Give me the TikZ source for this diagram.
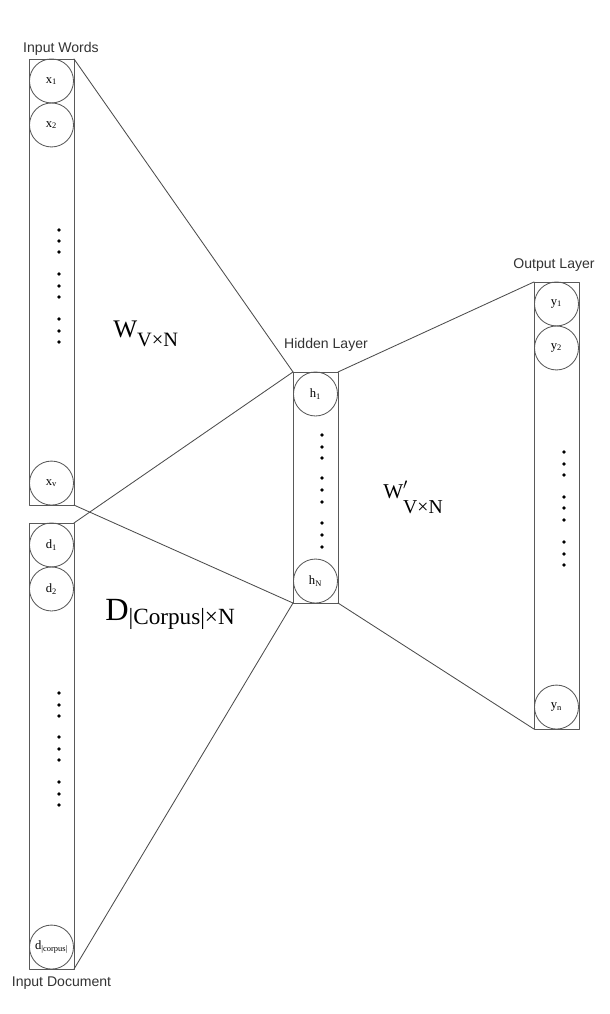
\documentclass[tikz,border=0pt]{standalone}
\usepackage{fontspec}
\setmainfont{Liberation Serif}
\newfontfamily\titlefont{Liberation Sans}
\usetikzlibrary{positioning}

\begin{document}
\begin{tikzpicture}[x=0.025cm,y=-0.025cm,line join=round,line cap=round,
    layerbox/.style={draw=black!65,line width=0.6pt,minimum width=1.125cm,inner sep=0pt,outer sep=0pt},
    unit/.style={circle,draw=black!65,line width=0.6pt,minimum size=1.1cm,inner sep=0pt,outer sep=0pt,
      font=\fontsize{9}{9}\selectfont},
    title/.style={font=\titlefont\fontsize{10}{12}\selectfont,text=black!80,inner sep=0pt},
    weight/.style={anchor=base west,inner sep=0pt},
    link/.style={draw=black!70,line width=0.6pt}]

  \useasboundingbox (0,0) rectangle (610,1014);

  % ---- input words ---------------------------------------------------------
  \node[layerbox,minimum height=11.15cm] (inw) at (51.5,282) {};
  \node[unit,below=0pt of inw.north] (x1) {x\textsubscript{1}};
  \node[unit,below=0pt of x1] (x2) {x\textsubscript{2}};
  \node[unit,above=0pt of inw.south] (xv) {x\textsubscript{v}};
  \foreach \y in {230,241,252,274,286,297,319,331,342}
    \fill (59,\y) circle (1.3pt);
  \node[title] (inwtitle) at (61,49) {Input Words};

  % ---- input document ------------------------------------------------------
  \node[layerbox,minimum height=11.15cm] (doc) at (51.5,746) {};
  \node[unit,below=0pt of doc.north] (d1) {d\textsubscript{1}};
  \node[unit,below=0pt of d1] (d2) {d\textsubscript{2}};
  \node[unit,above=0pt of doc.south] (dc) {d\textsubscript{|corpus|}};
  \foreach \y in {693,705,716,737,749,760,782,794,805}
    \fill (59,\y) circle (1.3pt);
  \node[title] (doctitle) at (61.5,983) {Input Document};

  % ---- hidden layer --------------------------------------------------------
  \node[layerbox,minimum height=5.775cm] (hid) at (315.5,487.5) {};
  \node[unit,below=0pt of hid.north] (h1) {h\textsubscript{1}};
  \node[unit,above=0pt of hid.south] (hN) {h\textsubscript{N}};
  \foreach \y in {435,447,458,478,490,502,523,535,547}
    \fill (322,\y) circle (1.3pt);
  \node[title] (hidtitle) at (326,345) {Hidden Layer};

  % ---- output layer --------------------------------------------------------
  \node[layerbox,minimum height=11.175cm] (out) at (556.5,505.5) {};
  \node[unit,below=0pt of out.north] (y1) {y\textsubscript{1}};
  \node[unit,below=0pt of y1] (y2) {y\textsubscript{2}};
  \node[unit,above=0pt of out.south] (yn) {y\textsubscript{n}};
  \foreach \y in {452,464,475,497,508,520,542,554,565}
    \fill (564,\y) circle (1.3pt);
  \node[title] (outtitle) at (554,265) {Output Layer};

  % ---- connections ---------------------------------------------------------
  \draw[link] (inw.north east) -- (hid.north west);
  \draw[link] (inw.south east) -- (hid.south west);
  \draw[link] (doc.north east) -- (hid.north west);
  \draw[link] (doc.south east) -- (hid.south west);
  \draw[link] (hid.north east) -- (out.north west);
  \draw[link] (hid.south east) -- (out.south west);

  % ---- weight matrices -----------------------------------------------------
  \node[weight] (wmat) at (113,337)
    {\fontsize{18}{18}\selectfont W\raisebox{-7pt}{\fontsize{14.5}{14.5}\selectfont V×N}};
  \node[weight] (dmat) at (105,620)
    {\fontsize{23}{23}\selectfont D\raisebox{-3.5pt}{\fontsize{16.5}{16.5}\selectfont |Corpus|×N}};
  \node[weight] (wout) at (383,498)
    {\fontsize{15}{15}\selectfont W\rlap{\raisebox{1pt}{$'$}}\raisebox{-11.3pt}{\fontsize{14}{14}\selectfont V×N}};

\end{tikzpicture}
\end{document}
